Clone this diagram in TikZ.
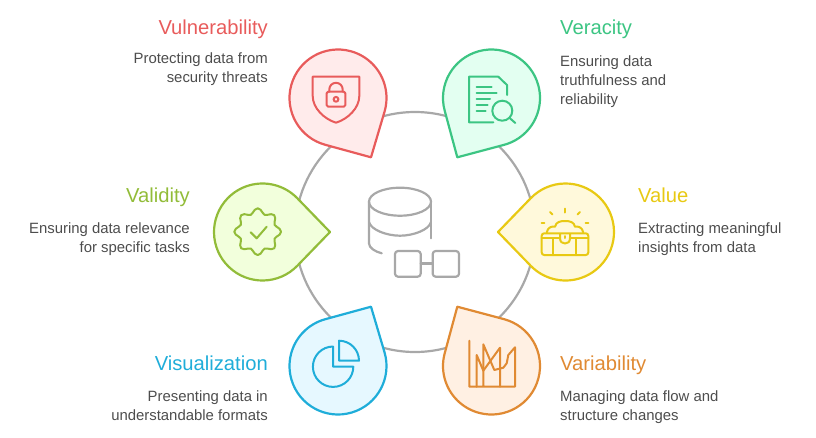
\documentclass[tikz,border=0pt]{standalone}
\usepackage{fontspec}
\setmainfont{Liberation Sans}
\definecolor{ringc}{HTML}{A8A8A8}
\definecolor{txt}{HTML}{4D4D4D}
\definecolor{redS}{HTML}{E85B5B}\definecolor{redF}{HTML}{FFEBEB}
\definecolor{greS}{HTML}{3CC583}\definecolor{greF}{HTML}{E3FFF1}
\definecolor{yelS}{HTML}{E8C913}\definecolor{yelF}{HTML}{FFF9DB}
\definecolor{limS}{HTML}{92BC39}\definecolor{limF}{HTML}{F2FFDC}
\definecolor{bluS}{HTML}{1FADD9}\definecolor{bluF}{HTML}{E6F8FF}
\definecolor{oraS}{HTML}{E08A33}\definecolor{oraF}{HTML}{FFF0E3}
\tikzset{
  icon/.style={line width=2pt,line join=round,line cap=round},
  ttl/.style={inner sep=0pt,font=\fontsize{20.2}{22}\selectfont},
  dsc/.style={inner sep=0pt,text=txt,font=\fontsize{14.9}{19}\selectfont},
}
\newcommand{\pinshape}[6]{%
  \pgfmathsetmacro{\pa}{atan2(#4-#2,#3-#1)}%
  \pgfmathsetmacro{\pb}{acos(48.5/veclen(#3-#1,#4-#2))}%
  \pgfmathsetmacro{\ps}{\pa+\pb}%
  \pgfmathsetmacro{\pd}{360-2*\pb}%
  \draw[line width=2.2pt,line join=round,draw=#6,fill=#5]
    (#3,#4) -- ($(#1,#2)+(\ps:48.5pt)$) arc[start angle=\ps,delta angle=\pd,radius=48.5pt] -- cycle;%
}
\usetikzlibrary{calc}
\begin{document}
\begin{tikzpicture}[x=1pt,y=1pt,yscale=-1]
\useasboundingbox (0,0) rectangle (816,437);
% ring
\draw[line width=2.2pt,ringc] (415,232) circle[radius=120pt];
% pins
\pinshape{338}{98}{371}{157.3}{redF}{redS}
\pinshape{491.5}{98}{457.3}{157.3}{greF}{greS}
\pinshape{565.5}{232}{498}{232}{yelF}{yelS}
\pinshape{262.5}{232}{330}{232}{limF}{limS}
\pinshape{338}{366}{371}{306.7}{bluF}{bluS}
\pinshape{491.5}{366}{457.3}{306.7}{oraF}{oraS}
% centre icon
\begin{scope}[line width=2.2pt,ringc,line cap=round,line join=round]
\draw (400,201.7) ellipse[x radius=31pt,y radius=14pt];
\draw (369,201.7) -- (369,243.3) .. controls (369,248) and (375,251.5) .. (381.7,253.3);
\draw (431,201.7) -- (431,238.3);
\draw (369,222) .. controls (371,230) and (387,235.7) .. (400,235.7) .. controls (413,235.7) and (429,230) .. (431,222);
\draw[rounded corners=3pt] (395,251) rectangle (420.7,276.7);
\draw[rounded corners=3pt] (432.7,251) rectangle (459,276.7);
\draw (420.7,263.5) -- (432.7,263.5);
\end{scope}
% red icon
\begin{scope}[icon,redS]
\draw (312.7,76.7) -- (359.3,76.7) -- (359.3,96) .. controls (359.3,108) and (348,119) .. (336,122.7) .. controls (324,119) and (312.7,108) .. (312.7,96) -- cycle;
\draw[rounded corners=1.5pt] (326.7,91.7) rectangle (345.3,106.7);
\draw (329.3,91.7) -- (329.3,89.5) arc[start angle=180,delta angle=180,radius=6.7pt] -- (342.7,91.7);
\draw (336,99.3) circle[radius=2.4pt];
\end{scope}
% green icon
\begin{scope}[icon,greS]
\draw (507,95) -- (507,85) -- (498.3,76.7) -- (469,76.7) -- (469,122.3) -- (493.3,122.3);
\draw (476.7,86.7) -- (491.7,86.7);
\draw (476.7,92.7) -- (496.7,92.7);
\draw (476.7,98.7) -- (490,98.7);
\draw (476.7,104.7) -- (487.7,104.7);
\draw (476.7,110.7) -- (485.7,110.7);
\draw (502.3,110.7) circle[radius=10pt];
\draw (509.3,117.7) -- (515.3,123);
\end{scope}
% yellow icon
\begin{scope}[icon,yelS]
\draw[rounded corners=2.5pt] (541.7,233.3) rectangle (588.3,255);
\draw (541.7,237.7) -- (560,237.7);
\draw (570,237.7) -- (588.3,237.7);
\draw (553.3,238) -- (553.3,255);
\draw (576,238) -- (576,255);
\draw (560,234) -- (560,237.7) .. controls (560,242) and (562,243.5) .. (565,243.5) .. controls (568,243.5) and (570,242) .. (570,237.7) -- (570,234);
\draw (565,236) -- (565,238);
\draw (546.7,232.3) .. controls (548,227) and (552,226) .. (555,226.7) .. controls (556,222) and (560,221) .. (565,221) .. controls (570,221) and (574,222) .. (575,226.7) .. controls (578,226) and (582,227) .. (583.3,232.3);
\draw (565,208.5) -- (565,212.5);
\draw (550,212) -- (552.5,214.5);
\draw (580,212) -- (577.5,214.5);
\draw (541.7,222.7) -- (544.3,222.7);
\draw (585.7,222.7) -- (588.3,222.7);
\end{scope}
% lime icon
\begin{scope}[icon,limS]
\draw plot[smooth cycle,domain=0:352.5,samples=48] ({257.7+(20.8+2.6*cos(8*\x))*cos(\x)},{231.7+(20.8+2.6*cos(8*\x))*sin(\x)});
\draw (250.7,232.3) -- (256.7,238.3) -- (266.7,226.7);
\end{scope}
% blue icon
\begin{scope}[icon,bluS]
\draw (339,360.7) -- (339,340.7) arc[start angle=-90,delta angle=90,radius=20pt] -- cycle;
\draw (333,346.7) -- (333,366.7) -- (353.3,366.7) arc[start angle=0,delta angle=270,radius=20.2pt];
\end{scope}
% orange icon
\begin{scope}[icon,oraS]
\draw (469.3,340.7) -- (469.3,386.7) -- (515,386.7) -- (515,347.3) -- (508.3,355) -- (506.7,363.3) -- (503.3,367.7) -- (494.3,370) -- (483.3,344.3) -- (483.3,386.7);
\draw (476.7,386.7) -- (476.7,355) -- (483.3,370.7) -- (500,347.7) -- (500,386.7);
\end{scope}
% texts
\node[ttl,text=redS,anchor=base east] (t1) at (268,34.5) {Vulnerability};
\node[dsc,align=right,anchor=north east] (d1) at (268,52.5) {Protecting data from\\security threats};
\node[ttl,text=greS,anchor=base west] (t2) at (560,34.5) {Veracity};
\node[dsc,align=left,anchor=north west] (d2) at (560,55) {Ensuring data\\truthfulness and\\reliability};
\node[ttl,text=yelS,anchor=base west] (t3) at (638,202.5) {Value};
\node[dsc,align=left,anchor=north west] (d3) at (638,222) {Extracting meaningful\\insights from data};
\node[ttl,text=limS,anchor=base east] (t4) at (190,202.5) {Validity};
\node[dsc,align=right,anchor=north east] (d4) at (190,222) {Ensuring data relevance\\for specific tasks};
\node[ttl,text=bluS,anchor=base east] (t5) at (268,370.5) {Visualization};
\node[dsc,align=right,anchor=north east] (d5) at (268,390) {Presenting data in\\understandable formats};
\node[ttl,text=oraS,anchor=base west] (t6) at (560,370.5) {Variability};
\node[dsc,align=left,anchor=north west] (d6) at (560,390) {Managing data flow and\\structure changes};
\end{tikzpicture}
\end{document}
